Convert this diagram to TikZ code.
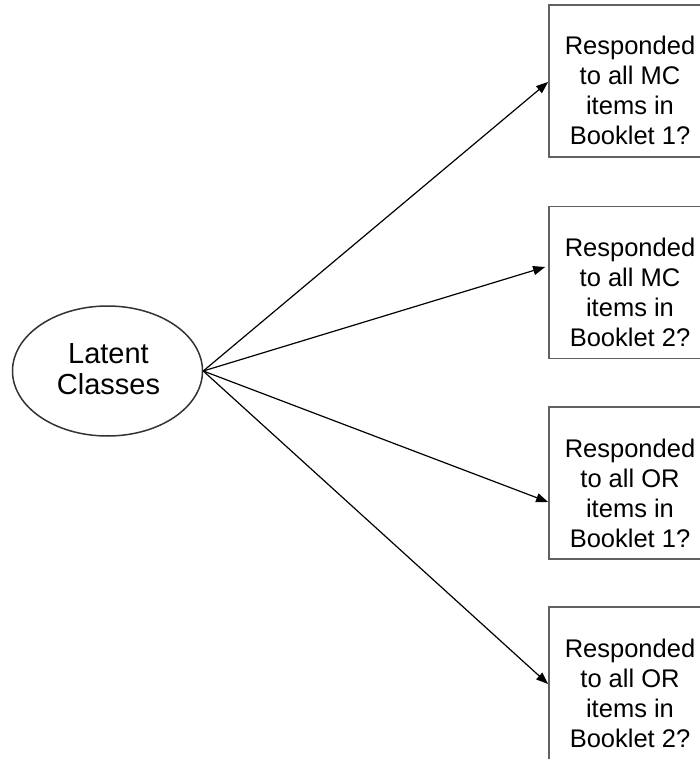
\documentclass[tikz,border=0pt]{standalone}
\usepackage{fontspec}
\setmainfont{Liberation Sans}
\usetikzlibrary{shapes.geometric,arrows.meta}
\newcommand{\stacktext}[3]{{\fontsize{#1}{#2}\selectfont\begin{tabular}{@{}c@{}}#3\end{tabular}}}
\tikzset{
  qbox/.style={draw=black!62, line width=1.8pt, minimum width=160pt, minimum height=152pt, inner sep=0pt},
  qtext/.style={inner sep=0pt},
  latent/.style={ellipse, draw=black!80, line width=1.5pt, minimum width=190pt, minimum height=130pt, inner sep=0pt},
  arr/.style={draw=black, line width=1.2pt, -{Triangle[length=12pt,width=9pt]}}
}
\begin{document}
\begin{tikzpicture}[x=1pt,y=-1pt]
\useasboundingbox (0,0) rectangle (700,759);
\node[latent] (lc) at (107.5,371) {};
\node[qtext] (lct) at (108.5,373) {\stacktext{29}{30}{Latent\\Classes}};
\node[qbox] (b1) at (629,81) {};
\node[qbox] (b2) at (629,282.5) {};
\node[qbox] (b3) at (629,483) {};
\node[qbox, minimum height=156pt] (b4) at (629,685) {};
\node[qtext] (t1) at (630,94) {\stacktext{25.5}{30}{Responded\\to all MC\\items in\\Booklet 1?}};
\node[qtext] (t2) at (630,295) {\stacktext{25.5}{30}{Responded\\to all MC\\items in\\Booklet 2?}};
\node[qtext] (t3) at (630,496) {\stacktext{25.5}{30}{Responded\\to all OR\\items in\\Booklet 1?}};
\node[qtext] (t4) at (630,696) {\stacktext{25.5}{30}{Responded\\to all OR\\items in\\Booklet 2?}};
\draw[arr] (lc.east) -- ([yshift=-1pt]b1.west);
\draw[arr] (lc.east) -- ([xshift=-3pt,yshift=15.5pt]b2.west);
\draw[arr] (lc.east) -- ([yshift=-19pt]b3.west);
\draw[arr] (lc.east) -- ([yshift=1pt]b4.west);
\end{tikzpicture}
\end{document}
